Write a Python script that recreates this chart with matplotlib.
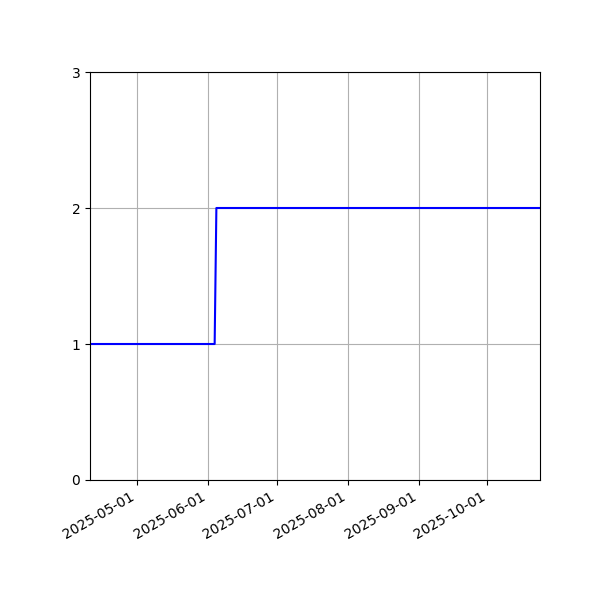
import matplotlib

matplotlib.use("Agg")
import matplotlib.dates as mdates  # noqa: E402
import matplotlib.pyplot as plt  # noqa: E402
import pandas as pd  # noqa: E402

# step series: value 1 until early June, then 2
times = pd.to_datetime([
    "2025-04-10 15:00",
    "2025-06-04 00:00",
    "2025-06-04 18:00",
    "2025-10-23 22:00",
])
values = [1, 1, 2, 2]
y_ticks = [0, 1, 2, 3]

fig, ax = plt.subplots(figsize=(6, 6), dpi=100)
ax.plot(times, values, color="blue")
ax.set_xlim(times[0], times[-1])
ax.set_ylim(0, 3)
ax.set_yticks(y_ticks)
ax.xaxis.set_major_locator(mdates.MonthLocator())
ax.xaxis.set_major_formatter(mdates.DateFormatter("%Y-%m-%d"))
ax.grid(True)
fig.autofmt_xdate()
fig.subplots_adjust(left=0.15, right=0.9, top=0.88, bottom=0.2)
fig.savefig("out.png", dpi=100)
plt.close(fig)
